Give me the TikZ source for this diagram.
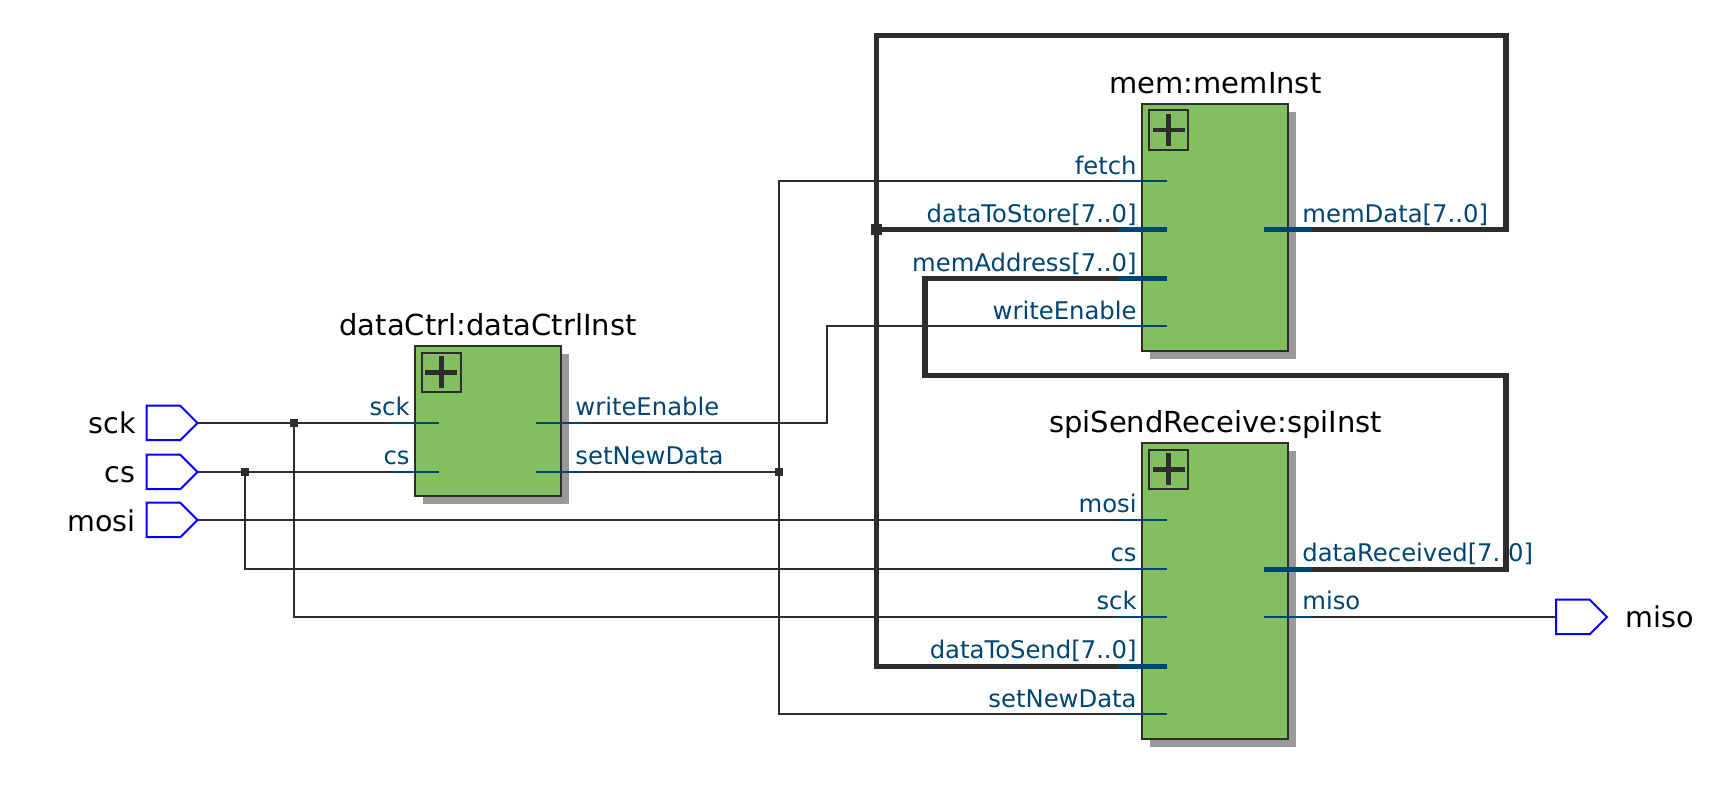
\documentclass[tikz,border=0pt]{standalone}
\usepackage{fontspec}
\setmainfont{DejaVu Sans}
\usetikzlibrary{shapes.symbols,shadows}
\definecolor{wirec}{HTML}{2D2D2D}
\definecolor{portc}{HTML}{004472}
\definecolor{boxc}{HTML}{83BF60}
\definecolor{shadc}{HTML}{999999}
\tikzset{
  block/.style={draw=wirec,fill=boxc,line width=1pt,inner sep=0pt,outer sep=0pt,minimum width=73pt,
    drop shadow={shadow xshift=4pt,shadow yshift=-4pt,fill=shadc,opacity=1,shadow scale=1}},
  expander/.style={draw=wirec,line width=1pt,inner sep=0pt,outer sep=0pt,minimum width=19.8pt,minimum height=19.8pt},
  plusbar/.style={draw=wirec,line width=2.2pt},
  pinshape/.style={signal,signal to=east,signal pointer angle=90,draw=blue,fill=white,line width=1pt,inner sep=0pt,outer sep=0pt,minimum width=25.5pt,minimum height=17.25pt,anchor=east},
  thinw/.style={draw=wirec,line width=1pt},
  thickw/.style={draw=wirec,line width=2.7pt},
  stubthin/.style={draw=portc,line width=1pt},
  stubthick/.style={draw=portc,line width=2.7pt},
  portl/.style={text=portc,font=\fontsize{12.15}{14}\selectfont,inner sep=0pt,anchor=base east},
  portr/.style={text=portc,font=\fontsize{12.15}{14}\selectfont,inner sep=0pt,anchor=base west},
  titlel/.style={text=black,font=\fontsize{14.5}{16}\selectfont,inner sep=0pt,anchor=base},
  pinl/.style={text=black,font=\fontsize{14.3}{16}\selectfont,inner sep=0pt},
  dotthin/.style={fill=wirec,inner sep=0pt,minimum size=3.7pt},
  dotthick/.style={fill=wirec,inner sep=0pt,minimum size=5.5pt},
}
\begin{document}
\begin{tikzpicture}[x=0.5pt,y=-0.5pt]
\useasboundingbox (0,0) rectangle (1730,801);
% blocks
\node[block,minimum height=75pt] (dc) at (488.2,421) {};
\node[block,minimum height=123.6pt] (mem) at (1215,227.4) {};
\node[block,minimum height=148pt] (spi) at (1215,591) {};
\node[expander] (dcx) at (441.4,372.5) {};
\node[expander] (memx) at (1168.5,130.3) {};
\node[expander] (spix) at (1168.5,469.5) {};
\foreach \n in {dcx,memx,spix}{
  \draw[plusbar] (\n.center) +(-16,0) -- +(16,0);
  \draw[plusbar] (\n.center) +(0,-16) -- +(0,16);
}
% titles
\node[titlel] (dct) at (488,335.5) {dataCtrl:dataCtrlInst};
\node[titlel] (memt) at (1215.5,93.5) {mem:memInst};
\node[titlel] (spit) at (1215.5,432.5) {spiSendReceive:spiInst};
% port labels
\node[portl] (lsck) at (410,416) {sck};
\node[portl] (lcs) at (410,464.8) {cs};
\node[portr] (lwe) at (575,416) {writeEnable};
\node[portr] (lsnd) at (575,464.8) {setNewData};
\node[portl] (lfetch) at (1137,174.2) {fetch};
\node[portl] (ldts) at (1137,222.6) {dataToStore[7..0]};
\node[portl] (lma) at (1137,271.6) {memAddress[7..0]};
\node[portl] (lmwe) at (1137,319.2) {writeEnable};
\node[portr] (lmd) at (1302,222.6) {memData[7..0]};
\node[portl] (lmosi) at (1137,513) {mosi};
\node[portl] (lscs) at (1137,561.8) {cs};
\node[portl] (lssck) at (1137,609.8) {sck};
\node[portl] (ldsend) at (1137,659) {dataToSend[7..0]};
\node[portl] (lssnd) at (1137,707) {setNewData};
\node[portr] (ldr) at (1302,561.8) {dataReceived[7..0]};
\node[portr] (lmiso) at (1302,609.8) {miso};
% pins
\node[pinshape] (psck) at (197.5,423) {};
\node[pinshape] (pcs) at (197.5,472) {};
\node[pinshape] (pmosi) at (197.5,520) {};
\node[pinshape] (pmiso) at (1607,617) {};
\node[pinl,anchor=base east] (tsck) at (136,433.5) {sck};
\node[pinl,anchor=base east] (tcs) at (136,482.8) {cs};
\node[pinl,anchor=base east] (tmosi) at (136,531.3) {mosi};
\node[pinl,anchor=base west] (tmiso) at (1625,627.8) {miso};
% port stub ends (O = outer end, I = inner end)
\coordinate (dcsckO) at (391,423);   \coordinate (dcsckI) at (439,423);
\coordinate (dccsO) at (391,472);    \coordinate (dccsI) at (439,472);
\coordinate (dcweO) at (585,423);    \coordinate (dcweI) at (536,423);
\coordinate (dcsnO) at (585,472);    \coordinate (dcsnI) at (536,472);
\coordinate (mfO) at (1118,180.7);   \coordinate (mfI) at (1167,180.7);
\coordinate (mdO) at (1118,229.3);   \coordinate (mdI) at (1167,229.3);
\coordinate (maO) at (1118,278.3);   \coordinate (maI) at (1167,278.3);
\coordinate (mwO) at (1118,325.7);   \coordinate (mwI) at (1167,325.7);
\coordinate (mqO) at (1312,229.3);   \coordinate (mqI) at (1264,229.3);
\coordinate (smO) at (1118,520);     \coordinate (smI) at (1167,520);
\coordinate (scO) at (1118,569);     \coordinate (scI) at (1167,569);
\coordinate (skO) at (1118,617);     \coordinate (skI) at (1167,617);
\coordinate (sdO) at (1118,666.3);   \coordinate (sdI) at (1167,666.3);
\coordinate (snO) at (1118,713.7);   \coordinate (snI) at (1167,713.7);
\coordinate (srO) at (1312,569.3);   \coordinate (srI) at (1264,569.3);
\coordinate (soO) at (1312,617);     \coordinate (soI) at (1264,617);
% junctions
\node[dotthin] (jsck) at (294,423) {};
\node[dotthin] (jcs) at (245,472) {};
\node[dotthin] (jsn) at (779,472) {};
\node[dotthick] (jd) at (876.5,229.3) {};
% thin wires
\draw[thinw] (psck.east) -- (dcsckO);
\draw[thinw] (pcs.east) -- (dccsO);
\draw[thinw] (pmosi.east) -- (smO);
\draw[thinw] (jcs.center) -- (jcs.center |- scO) -- (scO);
\draw[thinw] (jsck.center) -- (jsck.center |- skO) -- (skO);
\draw[thinw] (dcsnO) -- (jsn.center);
\draw[thinw] (jsn.center) -- (jsn.center |- mfO) -- (mfO);
\draw[thinw] (jsn.center) -- (jsn.center |- snO) -- (snO);
\draw[thinw] (dcweO) -- (827,423) -- (827,325.7) -- (mwO);
\draw[thinw] (soO) -- (pmiso.west);
% thick wires
\draw[thickw] (mdO) -- (jd.center);
\draw[thickw,line join=miter] (mqO) -- (1506,229.3) -- (1506,35.3) -- (876.5,35.3) -- (876.5,666.3) -- (sdO);
\draw[thickw,line join=miter] (srO) -- (1506,569.3) -- (1506,375.3) -- (924.8,375.3) -- (924.8,278.3) -- (maO);
% stubs
\foreach \a/\b in {dcsckO/dcsckI,dccsO/dccsI,dcweO/dcweI,dcsnO/dcsnI,mfO/mfI,mwO/mwI,smO/smI,scO/scI,skO/skI,snO/snI,soO/soI}
  \draw[stubthin] (\a) -- (\b);
\foreach \a/\b in {mdO/mdI,maO/maI,mqO/mqI,sdO/sdI,srO/srI}
  \draw[stubthick] (\a) -- (\b);
\end{tikzpicture}
\end{document}
